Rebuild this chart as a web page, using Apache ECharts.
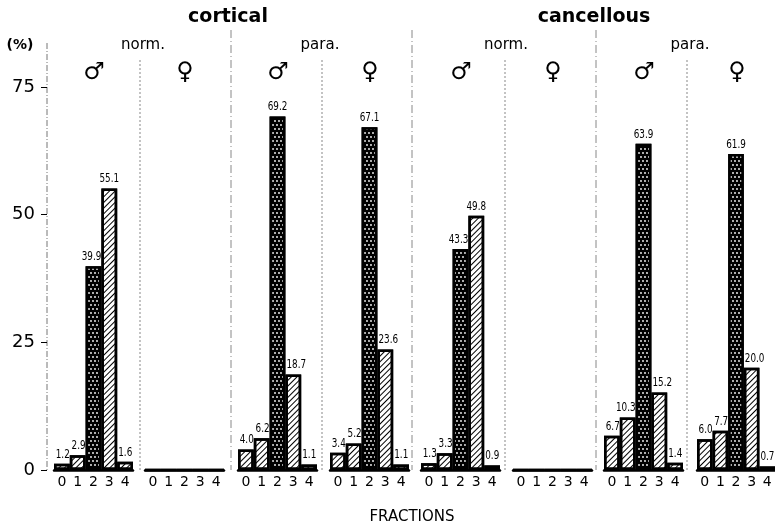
<!DOCTYPE html>
<html>
<head>
<meta charset="utf-8">
<script src="https://cdn.jsdelivr.net/npm/echarts@6/dist/echarts.min.js"></script>
<style>
  html, body { margin: 0; padding: 0; background: #fff; }
  #chart { width: 775px; height: 528px; }
</style>
</head>
<body>
<div id="chart"></div>
<script>
// fractions 0..4, percentages per panel
const fractions = ['0', '1', '2', '3', '4'];
const cortNormMale = [1.2, 2.9, 39.9, 55.1, 1.6];
const cortNormFemale = [0, 0, 0, 0, 0];
const cortParaMale = [4.0, 6.2, 69.2, 18.7, 1.1];
const cortParaFemale = [3.4, 5.2, 67.1, 23.6, 1.1];
const cancNormMale = [1.3, 3.3, 43.3, 49.8, 0.9];
const cancNormFemale = [0, 0, 0, 0, 0];
const cancParaMale = [6.7, 10.3, 63.9, 15.2, 1.4];
const cancParaFemale = [6.0, 7.7, 61.9, 20.0, 0.7];
const yTicks = [0, 25, 50, 75];

const panels = [cortNormMale, cortNormFemale, cortParaMale, cortParaFemale,
  cancNormMale, cancNormFemale, cancParaMale, cancParaFemale];
const sexes = ['♂', '♀', '♂', '♀', '♂', '♀', '♂', '♀'];

// layout
const barLeft = [54, 145, 238, 330, 421, 513, 604, 697];
const dividerX = [140, 231, 322, 412, 505, 596, 687];
const gridTop = 87, gridBottom = 470;
const font = '"DejaVu Sans", sans-serif';

const hatch = {
  symbol: 'rect', symbolSize: 1,
  dashArrayX: [1, 0], dashArrayY: [1, 2.2],
  rotation: -Math.PI / 4, color: '#000'
};
const dots = {
  symbol: 'circle', symbolSize: 0.9,
  dashArrayX: [[2, 2], [0, 2, 2, 0]], dashArrayY: [2, 1.5],
  color: '#fff'
};

// narrow value label above a bar; pushed aside when a neighbour bar is taller
const labelRenderer = vals => (params, api) => {
  const k = api.value(0);
  const v = api.value(1);
  if (!(v > 0)) return null;
  const pt = api.coord([k, v]);
  const half = api.size([1, 0])[0] / 2;
  let x = pt[0], align = 'center';
  if (k < vals.length - 1 && vals[k + 1] > v) { x = pt[0] + half; align = 'right'; }
  else if (k > 0 && vals[k - 1] > v) { x = pt[0] - half + 1; align = 'left'; }
  return {
    type: 'text', x: x, y: pt[1] - 3, scaleX: 0.68,
    style: {
      text: v.toFixed(1), fill: '#000', font: '13px ' + font,
      align: align, verticalAlign: 'bottom'
    }
  };
};

const chart = echarts.init(document.getElementById('chart'));

const grids = [], xAxes = [], yAxes = [], series = [];
panels.forEach((vals, i) => {
  grids.push({ left: barLeft[i], width: 79, top: gridTop, height: gridBottom - gridTop });
  xAxes.push({
    type: 'category', gridIndex: i, data: fractions,
    axisLine: { show: true, lineStyle: { color: '#000', width: 2.5 } },
    axisTick: { show: false },
    axisLabel: { color: '#000', fontSize: 14, fontFamily: font, margin: 5 }
  });
  yAxes.push({
    type: 'value', gridIndex: i, min: 0, max: 75, interval: 25,
    show: i === 0, offset: 7,
    axisLine: { show: false },
    axisTick: { show: true, length: 6, lineStyle: { color: '#000' } },
    splitLine: { show: false },
    axisLabel: {
      color: '#000', fontSize: 18, fontFamily: font, margin: 12,
      formatter: v => yTicks.includes(v) ? String(v) : ''
    }
  });
  series.push({
    type: 'bar', xAxisIndex: i, yAxisIndex: i,
    barCategoryGap: '0%',
    data: vals.map((v, k) => ({
      value: v,
      itemStyle: k === 2
        ? { color: '#000', decal: dots }
        : { color: '#fff', decal: hatch }
    })),
    itemStyle: { borderColor: '#000', borderWidth: 2.5 },
    silent: true
  });
  series.push({
    type: 'custom', xAxisIndex: i, yAxisIndex: i, z: 5, clip: false,
    data: vals.map((v, k) => [k, v]),
    encode: { x: 0, y: 1 },
    renderItem: labelRenderer(vals),
    silent: true
  });
});

const graphics = [];
// y axis line
graphics.push({
  type: 'line', shape: { x1: 47, y1: 43, x2: 47, y2: gridBottom },
  style: { stroke: '#777', lineWidth: 1, lineDash: [6, 2, 1, 2] }
});
dividerX.forEach((x, k) => {
  const major = k % 2 === 1;
  graphics.push({
    type: 'line', shape: { x1: x, y1: major ? 30 : 60, x2: x, y2: gridBottom },
    style: { stroke: '#888', lineWidth: 1, lineDash: major ? [8, 3, 1, 3] : [2, 2] }
  });
});
// headings
const headText = (x, y, text, size, weight) => ({
  type: 'text', x: x, y: y, z: 10,
  style: {
    text: text, font: (weight || 'normal') + ' ' + size + 'px ' + font,
    fill: '#000', align: 'center', verticalAlign: 'middle'
  }
});
graphics.push(headText(228, 17, 'cortical', 19, 'bold'));
graphics.push(headText(594, 17, 'cancellous', 19, 'bold'));
graphics.push(headText(143, 45, 'norm.', 15));
graphics.push(headText(320, 45, 'para.', 15));
graphics.push(headText(506, 45, 'norm.', 15));
graphics.push(headText(690, 45, 'para.', 15));
graphics.push(headText(20, 45, '(%)', 14, 'bold'));
graphics.push(headText(412, 517, 'FRACTIONS', 15));
sexes.forEach((s, i) => {
  graphics.push(headText(barLeft[i] + 40, 73, s, 24));
});

chart.setOption({
  animation: false,
  grid: grids,
  xAxis: xAxes,
  yAxis: yAxes,
  series: series,
  graphic: graphics
});
</script>
</body>
</html>
